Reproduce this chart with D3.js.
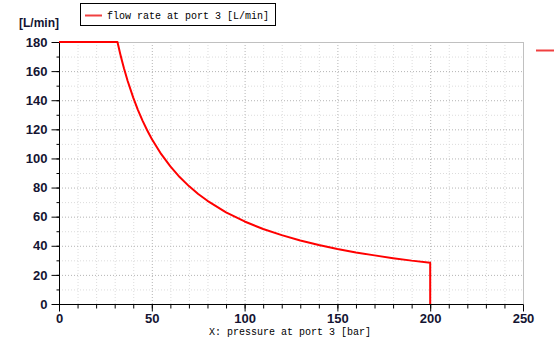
<!DOCTYPE html>
<html><head><meta charset="utf-8">
<script src="https://cdn.jsdelivr.net/npm/d3@7"></script>
<style>body{margin:0;background:#fff}svg{display:block}</style>
</head><body>
<svg id="c" width="558" height="345"></svg>
<script>
const pressure = [0, 31.5, 32, 33, 34, 35, 37, 40, 42.5, 45, 47.5, 50, 55, 60, 65, 70, 75, 80, 90, 100, 110, 120, 130, 140, 150, 160, 170, 180, 190, 200, 200];
const flowRate = [180, 180, 177.2, 171.8, 166.8, 162, 153.2, 141.8, 133.4, 126, 119.4, 113.4, 103.1, 94.5, 87.2, 81, 75.6, 70.9, 63, 56.7, 51.5, 47.3, 43.6, 40.5, 37.8, 35.4, 33.4, 31.5, 29.8, 28.4, 0];
const xTicks = [0, 50, 100, 150, 200, 250];
const yTicks = [0, 20, 40, 60, 80, 100, 120, 140, 160, 180];
const seriesName = "flow rate at port 3 [L/min]";
const xLabel = "X: pressure at port 3 [bar]";
const yLabel = "[L/min]";

const svg = d3.select("#c");
const L = 59, R = 523, T = 42, B = 304;
const x = d3.scaleLinear().domain([0, 250]).range([L, R]);
const y = d3.scaleLinear().domain([0, 180]).range([B, T]);
const minorX = d3.range(0, 251, 10);
const minorY = d3.range(0, 181, 10);

// grid
const g = svg.append("g");
minorX.forEach(v => { if (v === 0 || v === 250) return;
  const major = v % 50 === 0;
  g.append("line").attr("x1", x(v)+0.5).attr("x2", x(v)+0.5).attr("y1", T).attr("y2", B)
    .attr("stroke", major ? "#b4b4b4" : "#dcdcdc").attr("stroke-dasharray", "1,2"); });
minorY.forEach(v => { if (v === 0 || v === 180) return;
  const major = v % 20 === 0;
  g.append("line").attr("y1", y(v)+0.5).attr("y2", y(v)+0.5).attr("x1", L).attr("x2", R)
    .attr("stroke", major ? "#b4b4b4" : "#dcdcdc").attr("stroke-dasharray", "1,2"); });
// top & right border
g.append("line").attr("x1", L).attr("x2", R+0.5).attr("y1", T+0.5).attr("y2", T+0.5).attr("stroke", "#c0c0c0");
g.append("line").attr("x1", R+0.5).attr("x2", R+0.5).attr("y1", T).attr("y2", B).attr("stroke", "#c0c0c0");

// axes
const tickFont = "bold 13px 'Liberation Sans', Arial, sans-serif";
const xAxisMinor = d3.axisBottom(x).tickValues(minorX).tickSize(4).tickFormat("");
const yAxisMinor = d3.axisLeft(y).tickValues(minorY).tickSize(3).tickFormat("");
svg.append("g").attr("transform", `translate(0,${B+0.5})`).call(xAxisMinor).call(s => s.select(".domain").remove());
svg.append("g").attr("transform", `translate(${L+0.5},0)`).call(yAxisMinor).call(s => s.select(".domain").remove());
const xa = svg.append("g").attr("transform", `translate(0,${B+0.5})`)
  .call(d3.axisBottom(x).tickValues(xTicks).tickSize(7).tickSizeOuter(0).tickPadding(2));
const ya = svg.append("g").attr("transform", `translate(${L+0.5},0)`)
  .call(d3.axisLeft(y).tickValues(yTicks).tickSize(8).tickSizeOuter(0).tickPadding(4));
[xa, ya].forEach(a => {
  a.selectAll("text").style("font", tickFont).attr("fill", "#141432");
  a.selectAll("line,path").attr("stroke", "#000");
});
ya.select(".domain").attr("d", `M0,${T}V${B}`);
xa.select(".domain").attr("d", `M${L},0H${R}`);

// curve
svg.append("path").datum(pressure.map((p, i) => [p, flowRate[i]]))
  .attr("fill", "none").attr("stroke", "#ff0000").attr("stroke-width", 2)
  .attr("stroke-linejoin", "round")
  .attr("d", d3.line().x(d => x(d[0])).y(d => y(d[1])));

// labels
svg.append("text").attr("x", 19).attr("y", 27).text(yLabel)
  .style("font", "bold 12px 'Liberation Sans', Arial, sans-serif").attr("fill", "#141432");
svg.append("text").attr("x", 290).attr("y", 335).attr("text-anchor", "middle").text(xLabel)
  .style("font", "10px 'Liberation Mono', monospace").attr("fill", "#000");

// legend
svg.append("rect").attr("x", 80.5).attr("y", 3.5).attr("width", 195).attr("height", 22)
  .attr("fill", "#fff").attr("stroke", "#000");
svg.append("line").attr("x1", 85).attr("x2", 102).attr("y1", 15.5).attr("y2", 15.5)
  .attr("stroke", "#f04040").attr("stroke-width", 2);
svg.append("text").attr("x", 107).attr("y", 19).text(seriesName)
  .style("font", "10px 'Liberation Mono', monospace").attr("fill", "#000");
svg.append("line").attr("x1", 536).attr("x2", 554).attr("y1", 50.5).attr("y2", 50.5)
  .attr("stroke", "#f04040").attr("stroke-width", 2);
</script>
</body></html>
